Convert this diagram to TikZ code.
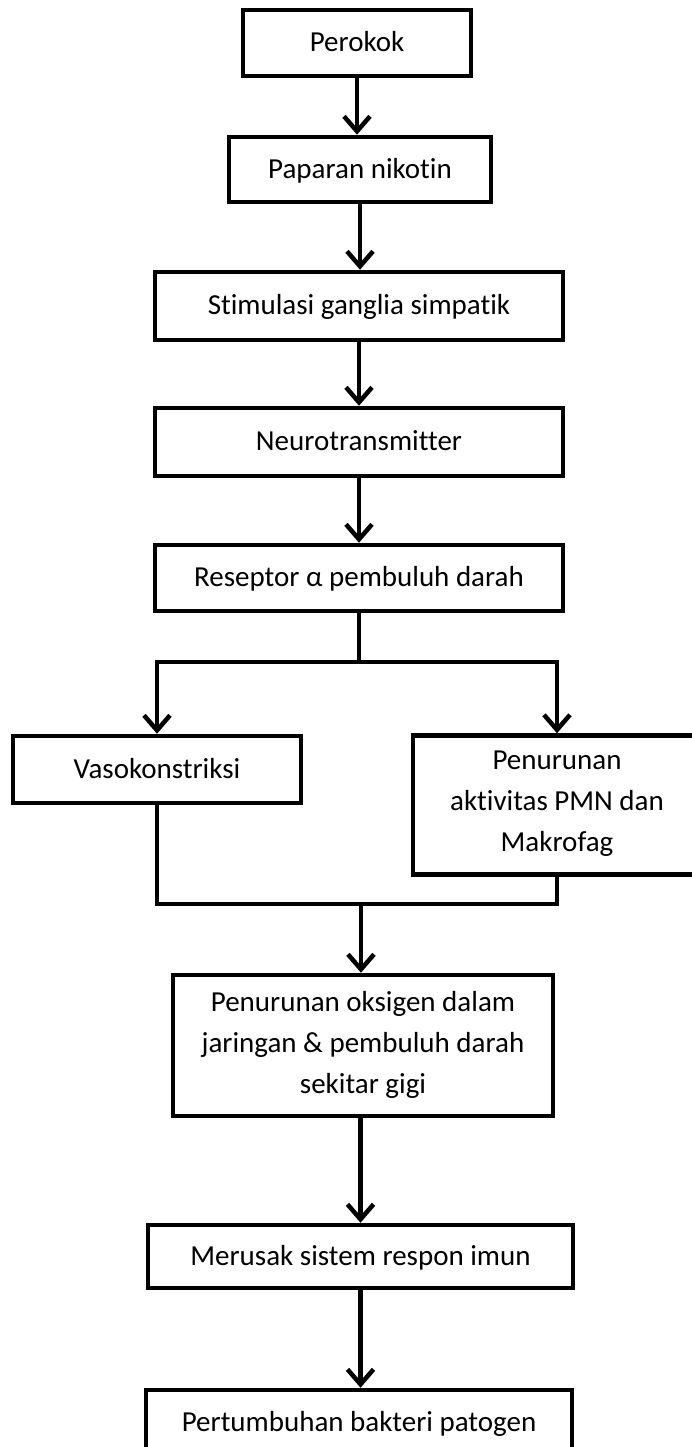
\documentclass[tikz,border=0pt]{standalone}
\usepackage{fontspec}
\setmainfont{Carlito}[Ligatures=NoCommon]
\usetikzlibrary{arrows.meta}

\newcommand\sr{\rule[-0.23em]{0pt}{1.08em}}

\begin{document}
\begin{tikzpicture}[x=1pt, y=-1pt, line width=4.5pt,
  flowbox/.style={draw, inner sep=0pt, align=center,
    font=\fontsize{29}{41}\selectfont, execute at begin node=\sr},
  flow/.style={-{Straight Barb[length=15pt, width=26pt]}}]

  \path[fill=white, use as bounding box] (0,0) rectangle (692,1447);

  \node[flowbox, minimum width=228pt, minimum height=66pt] (perokok)   at (357,43)     {Perokok};
  \node[flowbox, minimum width=262pt, minimum height=65pt] (paparan)   at (360,169.5)  {Paparan nikotin};
  \node[flowbox, minimum width=408pt, minimum height=68pt] (stimulasi) at (359,306)    {Stimulasi ganglia simpatik};
  \node[flowbox, minimum width=408pt, minimum height=68pt] (neuro)     at (359,442)    {Neurotransmitter};
  \node[flowbox, minimum width=408pt, minimum height=66pt] (reseptor)  at (359,578)    {Reseptor α pembuluh darah};
  \node[flowbox, minimum width=288pt, minimum height=67pt] (vaso)      at (157,769.5)  {Vasokonstriksi};
  \node[flowbox, minimum width=288pt, minimum height=139pt] (pmn)      at (557,805)    {Penurunan\\aktivitas PMN dan\\Makrofag};
  \node[flowbox, minimum width=380pt, minimum height=141pt] (oksigen)  at (363,1045.5) {Penurunan oksigen dalam\\jaringan \& pembuluh darah\\sekitar gigi};
  \node[flowbox, minimum width=425pt, minimum height=63pt] (merusak)   at (360.5,1256.5) {Merusak sistem respon imun};
  \node[flowbox, minimum width=426pt, minimum height=64pt] (patogen)   at (359,1422)   {Pertumbuhan bakteri patogen};

  % jalur utama
  \draw[flow] (perokok.south) -- (perokok.south |- paparan.north);
  \draw[flow] (paparan.south) -- (paparan.south |- stimulasi.north);
  \draw[flow] (stimulasi.south) -- (stimulasi.south |- neuro.north);
  \draw[flow] (neuro.south) -- (neuro.south |- reseptor.north);

  % percabangan
  \coordinate (split) at (360,662);
  \draw (reseptor.south) -- (reseptor.south |- split);
  \draw[flow] (reseptor.south |- split) -| (vaso.north);
  \draw[flow] (reseptor.south |- split) -| (pmn.north);

  % penggabungan
  \coordinate (merge) at (361,904);
  \draw (vaso.south) |- (merge);
  \draw (pmn.south) |- (merge);
  \draw[flow] (merge) -- (merge |- oksigen.north);

  \draw[flow] (merusak.north |- oksigen.south) -- (merusak.north);
  \draw[flow] (merusak.south) -- (merusak.south |- patogen.north);
\end{tikzpicture}
\end{document}
